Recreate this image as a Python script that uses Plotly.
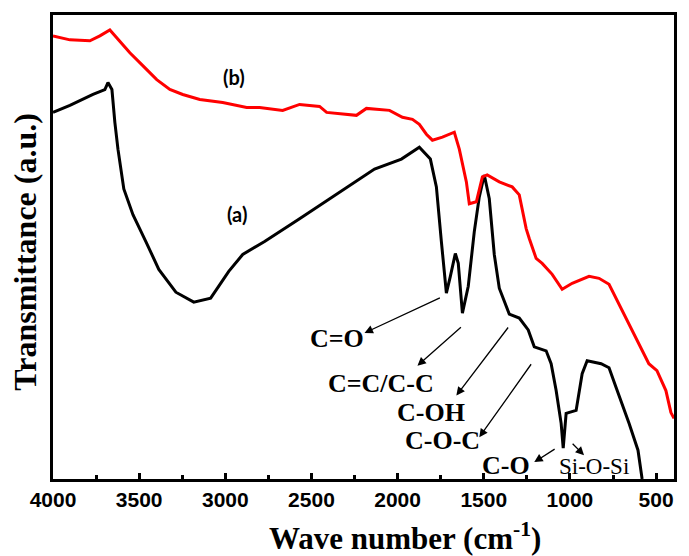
import plotly.graph_objects as go

# Curve (a) - black
wn_a = [4000, 3902, 3768, 3699, 3681, 3658, 3641, 3623, 3589, 3536, 3461, 3386, 3287, 3183,
        3085, 3032, 2980, 2899, 2772, 2569, 2337, 2134, 1978, 1874, 1810, 1775, 1746, 1717,
        1694, 1665, 1648, 1624, 1590, 1555, 1526, 1497, 1468, 1439, 1410, 1352, 1294, 1242,
        1207, 1138, 1109, 1080, 1051, 1039, 1022, 964, 929, 900, 819, 773, 732, 697, 657,
        605, 581]
tr_a = [369, 376, 387, 392, 399, 392, 359, 332, 292, 266, 239, 211, 188, 178,
        182, 196, 209, 226, 239, 262, 289, 312, 322, 334, 322, 294, 239, 187,
        204, 227, 217, 167, 194, 249, 284, 306, 282, 226, 192, 166, 162, 150,
        133, 129, 116, 89, 56, 31, 66, 69, 106, 119, 116, 112, 92, 76, 56,
        29, 0]

# Curve (b) - red
wn_b = [4000, 3902, 3786, 3728, 3670, 3629, 3554, 3479, 3398, 3322, 3247, 3148, 3015, 2876,
        2801, 2667, 2569, 2453, 2412, 2239, 2181, 2047, 1972, 1914, 1874, 1833, 1798, 1740,
        1671, 1642, 1601, 1584, 1543, 1508, 1480, 1410, 1335, 1294, 1254, 1236, 1196, 1161,
        1103, 1045, 987, 889, 831, 773, 715, 657, 600, 542, 495, 443, 414, 396]
tr_b = [446, 442, 441, 446, 452, 444, 429, 416, 402, 392, 387, 382, 379, 374,
        374, 371, 377, 375, 369, 366, 373, 371, 364, 362, 357, 347, 341, 344,
        349, 332, 299, 277, 279, 304, 306, 299, 294, 286, 252, 242, 222, 217,
        206, 191, 197, 204, 202, 196, 176, 156, 136, 116, 109, 89, 67, 61]

# Band labels: text, text position, arrow tail, arrow tip
band_text = ["C=O", "C=C/C-C", "C-OH", "C-O-C", "C-O", "Si-O-Si"]
band_pos = [(2349, 141), (2094, 96), (1804, 67), (1740, 39), (1370, 14), (860, 13)]
arrow_tail = [(1746, 183), (1624, 154), (1352, 154), (1219, 117), (1080, 31), (993, 37)]
arrow_tip = [(2192, 147), (1885, 114), (1659, 84), (1526, 42), (1207, 17), (918, 24)]

curve_labels = [("(a)", 2934, 267), ("(b)", 2951, 405)]

fig = go.Figure()
fig.add_trace(go.Scatter(x=wn_a, y=tr_a, mode="lines", line=dict(color="black", width=3),
                         showlegend=False))
fig.add_trace(go.Scatter(x=wn_b, y=tr_b, mode="lines", line=dict(color="#ff0000", width=3),
                         showlegend=False))

ann = []
for (t, x, y) in curve_labels:
    ann.append(dict(x=x, y=y, xref="x", yref="y", text=t, showarrow=False,
                    font=dict(family="Lato", size=20, color="black", weight="bold")))
for t, (x, y) in zip(band_text, band_pos):
    bold = t != "Si-O-Si"
    ann.append(dict(x=x, y=y, xref="x", yref="y", text=t, showarrow=False,
                    font=dict(family="Liberation Serif", size=26 if bold else 23,
                              color="black", weight="bold" if bold else "normal")))
for (tx, ty), (hx, hy) in zip(arrow_tail, arrow_tip):
    ann.append(dict(x=hx, y=hy, xref="x", yref="y", ax=tx, ay=ty, axref="x", ayref="y",
                    text="", showarrow=True, arrowhead=2, arrowsize=1.3, arrowwidth=1.3,
                    arrowcolor="black", standoff=0))
ann.append(dict(x=0.5675, y=-0.124, xref="paper", yref="paper",
                text="Wave number (cm<sup>-1</sup>)", showarrow=False,
                xanchor="center", yanchor="middle",
                font=dict(family="Liberation Serif", size=31, color="black", weight="bold")))
ann.append(dict(x=-0.045, y=0.49, xref="paper", yref="paper",
                text="Transmittance (a.u.)", showarrow=False, textangle=-90,
                xanchor="center", yanchor="middle",
                font=dict(family="Liberation Serif", size=32, color="black", weight="bold")))

fig.update_layout(
    width=689, height=556, autosize=False,
    margin=dict(l=53, r=14, t=12, b=77),
    plot_bgcolor="white", paper_bgcolor="white",
    annotations=ann,
    xaxis=dict(range=[4000, 396], showline=True, mirror=True, linecolor="black", linewidth=3,
               ticks="inside", ticklen=6, tickwidth=3, tickcolor="black",
               tick0=0, dtick=500, showgrid=False, zeroline=False,
               minor=dict(ticks="inside", ticklen=4, tickwidth=2.5, tickcolor="black", dtick=250,
                          showgrid=False),
               tickfont=dict(family="Liberation Sans", size=21, color="black", weight="bold")),
    yaxis=dict(range=[0, 467], showline=True, mirror=True, linecolor="black", linewidth=3,
               ticks="", showticklabels=False, showgrid=False, zeroline=False),
)

fig.write_html("out.html", config={"displayModeBar": False},
               post_script="document.body.style.margin='0';document.body.style.padding='0';")
